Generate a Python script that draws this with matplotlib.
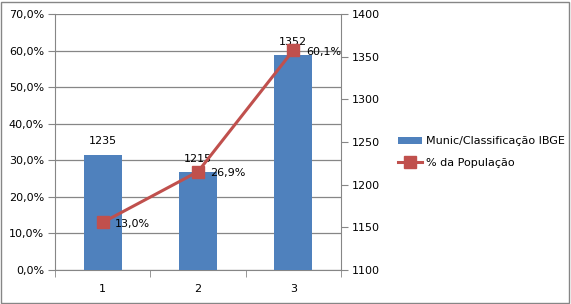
import numpy as np
import matplotlib.pyplot as plt
from matplotlib.patches import Rectangle
from matplotlib.ticker import FuncFormatter

# dados
categorias = ['1', '2', '3']
munic = [1235, 1215, 1352]          # eixo direito (barras)
pct_pop = [13.0, 26.9, 60.1]         # eixo esquerdo (linha), em %
serie_barras = 'Munic/Classificação IBGE'
serie_linha = '% da População'

azul = '#4F81BD'
vermelho = '#C0504D'
cinza = '#868686'

fig = plt.figure(figsize=(5.71, 3.04), dpi=100)
ax = fig.add_axes([55/571, 1 - 270/304, (341 - 55)/571, (270 - 14)/304])
x = np.arange(1, len(categorias) + 1)

# eixo de fundo: grade + escala em %
ax.set_ylim(0, 70)
ax.set_yticks(np.arange(0, 71, 10))
ax.yaxis.set_major_formatter(FuncFormatter(lambda v, p: f'{v:.1f}%'.replace('.', ',')))
ax.grid(axis='y', color=cinza, linewidth=0.9)
ax.set_axisbelow(True)
ax.set_xlim(0.5, 3.5)
ax.set_xticks(x)
ax.set_xticklabels(categorias)
ax.set_xticks([0.5, 1.5, 2.5, 3.5], minor=True)
ax.tick_params(axis='x', which='major', length=0, pad=10, labelsize=8)
ax.tick_params(axis='x', which='minor', length=5, color=cinza)
ax.tick_params(axis='y', length=5, color=cinza, labelsize=8, pad=3)
for s in ['top', 'right']:
    ax.spines[s].set_visible(False)
for s in ['left', 'bottom']:
    ax.spines[s].set_color(cinza)

# barras no eixo direito
ax2 = ax.twinx()
barras = ax2.bar(x, munic, width=0.4, color=azul, label=serie_barras, zorder=2)
ax2.set_ylim(1100, 1400)
ax2.set_yticks(np.arange(1100, 1401, 50))
ax2.tick_params(axis='y', length=5, color=cinza, labelsize=8, pad=3)
for s in ['top', 'left', 'bottom']:
    ax2.spines[s].set_visible(False)
ax2.spines['right'].set_color(cinza)
ax2.bar_label(barras, labels=[str(v) for v in munic], padding=6, fontsize=8)

# linha por cima
ax3 = ax.twinx()
ax3.set_ylim(ax.get_ylim())
ax3.axis('off')
linha, = ax3.plot(x, pct_pop, color=vermelho, linewidth=2.2, marker='s',
                  markersize=8, label=serie_linha)
for xi, v in zip(x, pct_pop):
    ax3.annotate(f'{v:.1f}%'.replace('.', ','), (xi, v), xytext=(9, -1),
                 textcoords='offset points', ha='left', va='center', fontsize=8)

fig.legend(handles=[barras, linha], labels=[serie_barras, serie_linha],
           loc='center left', bbox_to_anchor=(388/571, 1 - 152/304),
           frameon=False, fontsize=8, handlelength=2.2, handletextpad=0.3,
           labelspacing=1.0)

fig.patches.append(Rectangle((0.002, 0.004), 0.995, 0.99, transform=fig.transFigure,
                             fill=False, edgecolor=cinza, linewidth=1))

fig.savefig('out.png', dpi=100)
